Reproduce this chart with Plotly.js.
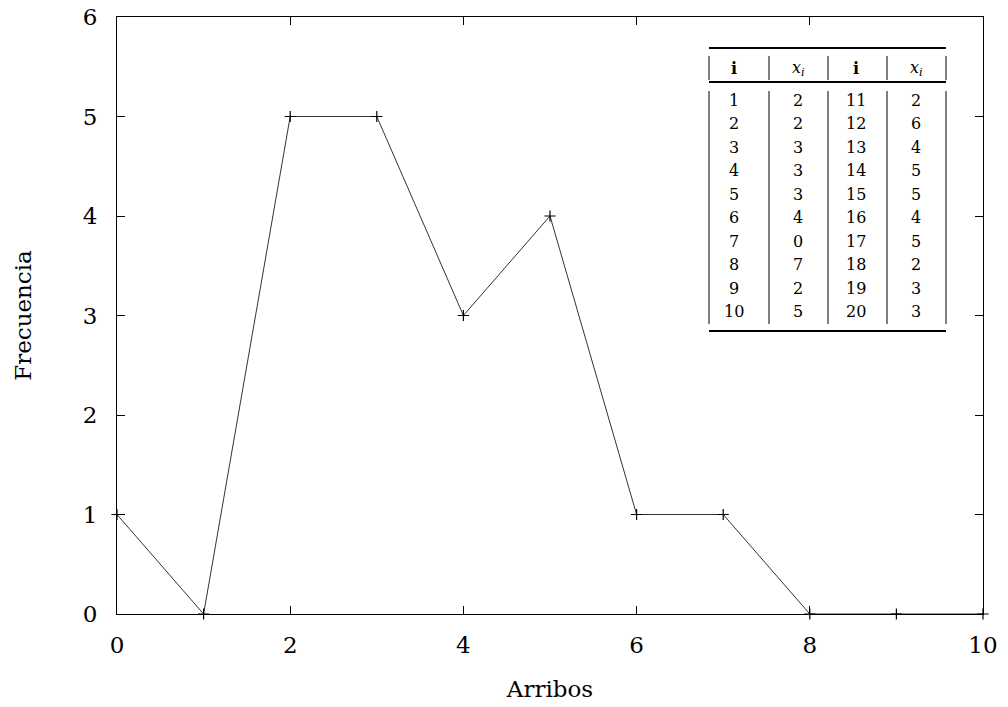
<!DOCTYPE html>
<html>
<head>
<meta charset="utf-8">
<script src="https://cdn.plot.ly/plotly-3.0.1.min.js"></script>
<style>html,body{margin:0;padding:0;background:#fff}</style>
</head>
<body>
<div id="chart" style="width:1008px;height:707px"></div>
<script>
// Chart data
var arribos = [0, 1, 2, 3, 4, 5, 6, 7, 8, 9, 10];
var frecuencia = [1, 0, 5, 5, 3, 4, 1, 1, 0, 0, 0];

// Inset table data
var tableHeader = ['i', 'x_i', 'i', 'x_i'];
var tableI1 = [1, 2, 3, 4, 5, 6, 7, 8, 9, 10];
var tableX1 = [2, 2, 3, 3, 3, 4, 0, 7, 2, 5];
var tableI2 = [11, 12, 13, 14, 15, 16, 17, 18, 19, 20];
var tableX2 = [2, 6, 4, 5, 5, 4, 5, 2, 3, 3];

var W = 1008, H = 707;
var M = {l: 117, r: 25, t: 17, b: 93};
var PW = W - M.l - M.r, PH = H - M.t - M.b;
function px(x) { return (x - M.l) / PW; }
function py(y) { return (H - M.b - y) / PH; }

var font = "'DejaVu Serif', 'Liberation Serif', serif";
var shapes = [], annotations = [];

// table geometry (pixels)
var tL = 709, tR = 946;
var colSep = [769, 828, 887];
var colCenters = [734, 798, 856, 916];
var topRule = 48, headerRule = 82, bottomRule = 331;
var rowY0 = 100, rowDy = 23.55;

function hline(y, w) {
  shapes.push({type: 'line', xref: 'paper', yref: 'paper', x0: px(tL), x1: px(tR), y0: py(y), y1: py(y), line: {color: '#000', width: w}});
}
function vline(x, y0, y1) {
  shapes.push({type: 'line', xref: 'paper', yref: 'paper', x0: px(x), x1: px(x), y0: py(y0), y1: py(y1), line: {color: '#000', width: 1}});
}
hline(topRule, 2);
hline(headerRule, 2);
hline(bottomRule, 2);
var vxs = [tL].concat(colSep).concat([tR]);
vxs.forEach(function (x) {
  vline(x, 56, 80);
  vline(x, 91, 324);
});

tableHeader.forEach(function (h, k) {
  var txt = h === 'i' ? '<b>i</b>' : '<i>x</i><sub><i>i</i></sub>';
  annotations.push({xref: 'paper', yref: 'paper', x: px(colCenters[k]), y: py(69), text: txt, showarrow: false,
    xanchor: 'center', yanchor: 'middle', font: {family: font, size: 16, color: '#000'}});
});
var cols = [tableI1, tableX1, tableI2, tableX2];
cols.forEach(function (col, k) {
  col.forEach(function (v, r) {
    annotations.push({xref: 'paper', yref: 'paper', x: px(colCenters[k]), y: py(rowY0 + r * rowDy), text: String(v), showarrow: false,
      xanchor: 'center', yanchor: 'middle', font: {family: font, size: 16, color: '#000'}});
  });
});

var trace = {
  x: arribos, y: frecuencia, type: 'scatter', mode: 'lines+markers',
  line: {color: '#333', width: 1},
  marker: {symbol: 'cross-thin', size: 8, line: {color: '#000', width: 1.2}},
  cliponaxis: false, hoverinfo: 'none'
};

var axisCommon = {
  showgrid: false, zeroline: false, showline: true, linecolor: '#000', linewidth: 1,
  mirror: 'ticks', ticks: 'inside', ticklen: 8, tickcolor: '#000', tickwidth: 1,
  tickfont: {family: font, size: 23, color: '#000'}
};

var layout = {
  width: W, height: H, margin: M,
  paper_bgcolor: '#fff', plot_bgcolor: '#fff', showlegend: false,
  xaxis: Object.assign({}, axisCommon, {range: [0, 10], tickvals: [0, 2, 4, 6, 8, 10], ticklabelstandoff: 10,
    title: {text: 'Arribos', font: {family: font, size: 23, color: '#000'}, standoff: 24}}),
  yaxis: Object.assign({}, axisCommon, {range: [0, 6], tickvals: [0, 1, 2, 3, 4, 5, 6], ticklabelstandoff: 14,
    title: {text: 'Frecuencia', font: {family: font, size: 23, color: '#000'}, standoff: 44}}),
  shapes: shapes, annotations: annotations
};

Plotly.newPlot('chart', [trace], layout, {displayModeBar: false, staticPlot: true});
</script>
</body>
</html>
